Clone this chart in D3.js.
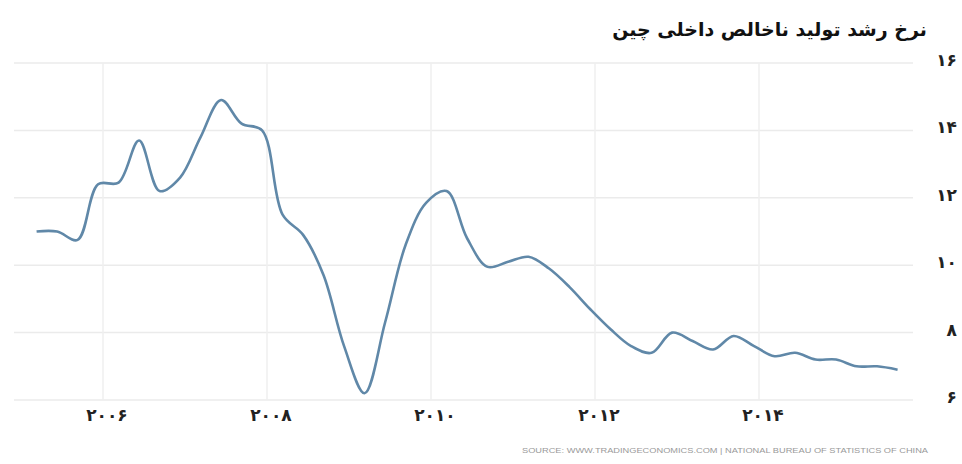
<!DOCTYPE html>
<html>
<head>
<meta charset="utf-8">
<script src="https://cdn.jsdelivr.net/npm/d3@7"></script>
<style>
  body { margin: 0; background: #fff; }
  svg { display: block; }
</style>
</head>
<body>
<div id="chart"></div>
<script>
// China GDP growth, quarterly, 2005 Q1 .. 2015 Q3
var startYear = 2005;
var growth = [
  11.0, 11.0, 10.75, 12.4,
  12.45, 13.7, 12.2, 12.6,
  13.8, 14.9, 14.2, 14.0,
  11.5, 10.9, 9.7, 7.6,
  6.2, 8.3, 10.6, 11.85,
  12.2, 10.8, 9.95, 10.1,
  10.25, 9.9, 9.35, 8.7,
  8.1, 7.6, 7.4, 8.0,
  7.75, 7.5, 7.9, 7.6,
  7.3, 7.4, 7.2, 7.2,
  7.0, 7.0, 6.9
];
var yTicks = [6, 8, 10, 12, 14, 16];
var xTicks = [2006, 2008, 2010, 2012, 2014];

var titleText = "نرخ رشد تولید ناخالص داخلی چین";
var sourceText = "SOURCE: WWW.TRADINGECONOMICS.COM | NATIONAL BUREAU OF STATISTICS OF CHINA";

var svgWidth = 962;
var svgHeight = 464;

// persian digits for tick labels
function fa(n) {
  return String(n).replace(/\d/g, d => "۰۱۲۳۴۵۶۷۸۹"[+d]);
}

var data = growth.map((v, i) => ({ t: startYear + i * 0.25 + 0.19, v: v }));

var svg = d3.select("#chart")
  .append("svg")
  .attr("width", svgWidth)
  .attr("height", svgHeight);

var xScale = d3.scaleLinear()
  .domain([2005, 2016])
  .range([21, 923]);

var yScale = d3.scaleLinear()
  .domain([6, 16])
  .range([400, 63]);

var gridLeft = 14, gridRight = 913;

// horizontal grid
svg.append("g")
  .selectAll("line")
  .data(yTicks)
  .enter()
  .append("line")
  .attr("x1", gridLeft)
  .attr("x2", gridRight)
  .attr("y1", d => yScale(d))
  .attr("y2", d => yScale(d))
  .attr("stroke", "#ebebeb")
  .attr("stroke-width", 1.5);

// vertical grid
svg.append("g")
  .selectAll("line")
  .data(xTicks)
  .enter()
  .append("line")
  .attr("x1", d => xScale(d))
  .attr("x2", d => xScale(d))
  .attr("y1", yScale(16))
  .attr("y2", yScale(6))
  .attr("stroke", "#efefef")
  .attr("stroke-width", 1.5);

// y labels
svg.append("g")
  .selectAll("text")
  .data(yTicks)
  .enter()
  .append("text")
  .attr("x", 957)
  .attr("y", d => yScale(d) + 3)
  .attr("text-anchor", "end")
  .attr("font-family", "DejaVu Sans")
  .attr("font-weight", "bold")
  .attr("font-size", 17)
  .attr("fill", "#222")
  .text(d => fa(d));

// x labels
svg.append("g")
  .selectAll("text")
  .data(xTicks)
  .enter()
  .append("text")
  .attr("x", d => xScale(d) + 4)
  .attr("y", 421)
  .attr("text-anchor", "middle")
  .attr("font-family", "DejaVu Sans")
  .attr("font-weight", "bold")
  .attr("font-size", 17)
  .attr("letter-spacing", 4)
  .attr("fill", "#222")
  .text(d => fa(d));

// the line
var line = d3.line()
  .x(d => xScale(d.t))
  .y(d => yScale(d.v))
  .curve(d3.curveCatmullRom.alpha(0.5));

svg.append("path")
  .datum(data)
  .attr("d", line)
  .attr("fill", "none")
  .attr("stroke", "#6088a8")
  .attr("stroke-width", 2.6)
  .attr("stroke-linejoin", "round");

// title
svg.append("text")
  .attr("x", 927)
  .attr("y", 36)
  .attr("text-anchor", "end")
  .attr("font-family", "DejaVu Sans")
  .attr("font-weight", "bold")
  .attr("font-size", 19)
  .attr("fill", "#111")
  .text(titleText);

// source
svg.append("text")
  .attr("x", 522)
  .attr("y", 453)
  .attr("textLength", 406)
  .attr("lengthAdjust", "spacingAndGlyphs")
  .attr("font-family", "Liberation Sans Narrow, Liberation Sans")
  .attr("font-size", 7)
  .attr("fill", "#999")
  .text(sourceText);
</script>
</body>
</html>
